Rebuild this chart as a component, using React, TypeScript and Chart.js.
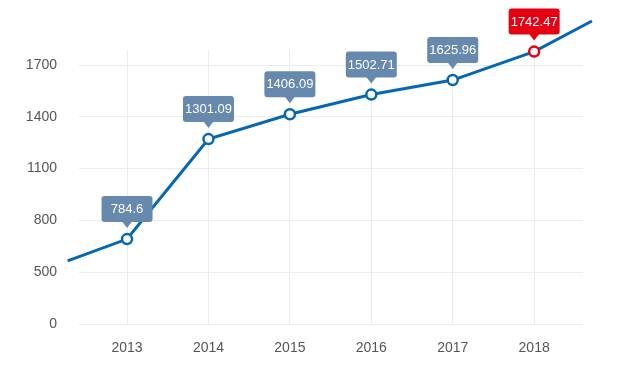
import React, { useEffect, useRef } from "react";
import { Chart, registerables } from "chart.js";

Chart.register(...registerables);

// Categories (years) and their value labels
const years = [2013, 2014, 2015, 2016, 2017, 2018];
const valueLabels = ["784.6", "1301.09", "1406.09", "1502.71", "1625.96", "1742.47"];
// Plotted level of each point, in y-axis tick-step units (axis ticks are evenly spaced)
const levels = [1.64, 3.57, 4.05, 4.43, 4.71, 5.26];
// Y-axis tick labels (one per evenly spaced step)
const yTickLabels = ["0", "500", "800", "1100", "1400", "1700"];
// Line lead-in / lead-out beyond the first and last year
const edgeYears = [2012.27, 2018.71];
const edgeLevels = [1.22, 5.85];
const highlightIndex = 5;

const LINE = "#0567b3";
const BOX = "#6689ad";
const RED = "#e60012";
const GRID = "#e9edf1";
const FONT = "'Liberation Sans', Arial, sans-serif";

const labelPlugin = {
  id: "valueBoxes",
  afterDatasetsDraw(chart: any) {
    const meta = chart.getDatasetMeta(0);
    const ctx = chart.ctx;
    ctx.save();
    valueLabels.forEach((txt, i) => {
      const el = meta.data[i + 1];
      if (!el) return;
      const x = el.x;
      const y = el.y;
      const w = 51;
      const h = 26;
      const bottom = y - 17;
      const top = bottom - h;
      const color = i === highlightIndex ? RED : BOX;
      ctx.fillStyle = color;
      ctx.beginPath();
      (ctx as any).roundRect(x - w / 2, top, w, h, 3);
      ctx.fill();
      ctx.beginPath();
      ctx.moveTo(x - 5, bottom - 0.5);
      ctx.lineTo(x + 5, bottom - 0.5);
      ctx.lineTo(x, bottom + 6);
      ctx.closePath();
      ctx.fill();
      ctx.fillStyle = "#ffffff";
      ctx.font = `13px ${FONT}`;
      ctx.textAlign = "center";
      ctx.textBaseline = "middle";
      ctx.fillText(txt, x, top + h / 2 + 0.5);
    });
    ctx.restore();
  },
};

export default function App() {
  const ref = useRef<HTMLCanvasElement>(null);
  useEffect(() => {
    if (!ref.current) return;
    const pts = [
      { x: edgeYears[0], y: edgeLevels[0] },
      ...years.map((yr, i) => ({ x: yr, y: levels[i] })),
      { x: edgeYears[1], y: edgeLevels[1] },
    ];
    const n = pts.length;
    const radius = pts.map((_, i) => (i === 0 || i === n - 1 ? 0 : 5));
    const borderCols = pts.map((_, i) => (i - 1 === highlightIndex ? RED : LINE));
    const chart = new Chart(ref.current, {
      type: "line",
      data: {
        datasets: [
          {
            data: pts,
            borderColor: LINE,
            borderWidth: 3,
            tension: 0,
            pointRadius: radius,
            pointHoverRadius: radius,
            pointBackgroundColor: "#ffffff",
            pointBorderColor: borderCols,
            pointBorderWidth: 2.5,
            clip: false as any,
          },
        ],
      },
      options: {
        animation: false,
        responsive: false,
        events: [],
        layout: { padding: { left: 0, right: 37, top: 50, bottom: 0 } },
        plugins: { legend: { display: false }, tooltip: { enabled: false } },
        scales: {
          x: {
            type: "linear",
            min: 2012.41,
            max: 2018.6,
            afterBuildTicks: (s: any) => {
              s.ticks = years.map((v) => ({ value: v }));
            },
            afterFit: (s: any) => {
              s.height = 52;
            },
            grid: { color: GRID, drawTicks: false, lineWidth: 1 },
            border: { display: false },
            ticks: {
              padding: 16,
              color: "#555555",
              font: { size: 14, family: FONT },
              callback: (v: any) => String(v),
            },
          },
          y: {
            type: "linear",
            min: 0,
            max: 5.29,
            afterBuildTicks: (s: any) => {
              s.ticks = yTickLabels.map((_, i) => ({ value: i }));
            },
            afterFit: (s: any) => {
              s.width = 79;
            },
            grid: { color: GRID, drawTicks: false, lineWidth: 1 },
            border: { display: false },
            ticks: {
              padding: 22,
              color: "#555555",
              font: { size: 14, family: FONT },
              callback: (v: any) => yTickLabels[Math.round(v)] ?? "",
            },
          },
        },
      },
      plugins: [labelPlugin],
    });
    return () => chart.destroy();
  }, []);
  return (
    <div style={{ position: "fixed", left: 0, top: 0, width: 620, height: 376, background: "#fff" }}>
      <canvas ref={ref} width={620} height={376} style={{ width: 620, height: 376 }} />
    </div>
  );
}
